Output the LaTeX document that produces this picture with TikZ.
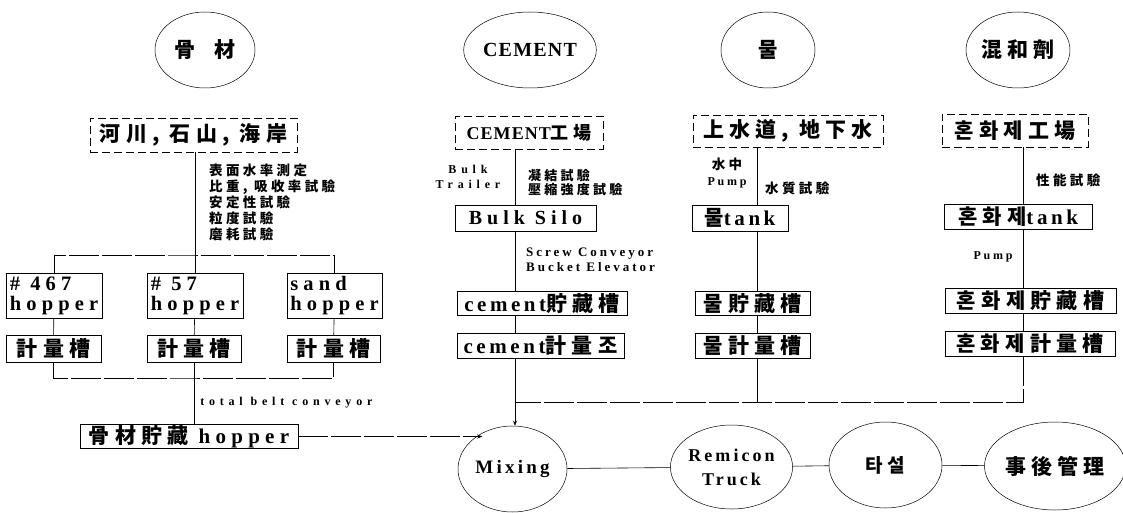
\documentclass[tikz,border=0pt]{standalone}
\usepackage{fontspec}
\setmainfont{Liberation Serif}
\newfontfamily\lat[LetterSpace=17]{Liberation Serif}
\newfontfamily\lath[LetterSpace=25]{Liberation Serif}
\newfontfamily\latc[LetterSpace=6]{Liberation Serif}
\newfontfamily\latm[LetterSpace=23]{Liberation Serif}
\newfontfamily\latw[LetterSpace=40]{Liberation Serif}
\newfontfamily\kr[LetterSpace=25]{Noto Sans CJK KR}
\usetikzlibrary{arrows.meta, shapes.geometric}
\newcommand\fsrc{\fontsize{21}{22}\selectfont\bfseries}
\newcommand\fhop{\fontsize{20.5}{20}\selectfont\bfseries}
\newcommand\fnote{\fontsize{13.5}{16}\selectfont\bfseries}
\newcommand\flatnote{\fontsize{12}{15.5}\selectfont\bfseries}

\begin{document}
\begin{tikzpicture}[
  x=1pt, y=-1pt,
  every node/.style={inner sep=0pt},
  srcbox/.style={draw, dash pattern=on 8pt off 4pt, line width=0.6pt, font=\fsrc\kr},
  tankbox/.style={draw, line width=0.5pt, font=\fsrc\kr},
  stage/.style={draw, ellipse, line width=0.5pt, font=\fsrc\kr},
  note/.style={font=\fnote\kr, align=left},
  latnote/.style={font=\flatnote\latw, align=left},
  sz/.style 2 args={minimum width=#1pt, minimum height=#2pt},
  wire/.style={line width=0.6pt},
  bus/.style={line width=0.6pt, dash pattern=on 30pt off 3pt},
  feed/.style={-{Stealth[length=5pt, width=4pt]}}
]
  \useasboundingbox (0,0) rectangle (1123,513);

  % materials
  \node[stage, sz={100}{76}] (gm) at (205,50) {骨\hspace{20pt}材};
  \node[stage, sz={98}{76}, font=\fontsize{20}{20}\selectfont\bfseries\latc] (cem) at (530,50) {CEMENT};
  \node[stage, sz={94}{76}] (mul) at (768,50) {물};
  \node[stage, sz={94}{76}] (hh) at (1018,50) {混和劑};

  % sources
  \node[srcbox, sz={207}{34}] (river) at (193.5,135) {河川, 石山, 海岸};
  \node[srcbox, sz={148}{33}, font=\fontsize{18}{20}\selectfont\bfseries\kr] (plant) at (529,132.5) {{\latc CEMENT}工場};
  \node[srcbox, sz={190}{32}] (well) at (788,131) {上水道, 地下水};
  \node[srcbox, sz={146}{33}] (adfac) at (1015,130.5) {혼화제工場};

  % aggregate line
  \node[tankbox, sz={96}{45}, align=left, font=\fhop\lath] (h467) at (54,295.5) {\# 467\\hopper};
  \node[tankbox, sz={96}{45}, align=left, font=\fhop\lath] (h57) at (195,295.5) {\# 57\\hopper};
  \node[tankbox, sz={95}{45}, align=left, font=\fhop\lath] (hsand) at (334.5,295.5) {sand\\hopper};
  \node[tankbox, sz={95}{27}] (k1) at (53.5,348.5) {計量槽};
  \node[tankbox, sz={94}{27}] (k2) at (194,348.5) {計量槽};
  \node[tankbox, sz={93}{27}] (k3) at (333.5,348.5) {計量槽};
  \node[tankbox, sz={218}{24}] (agg) at (189,436.5) {骨材貯藏 {\lath hopper}};

  % cement line
  \node[tankbox, sz={141}{26}, font=\fontsize{20}{20}\selectfont\bfseries\lath] (silo) at (525.5,218) {Bulk Silo};
  \node[tankbox, sz={170}{24}] (ctank) at (542,303.5) {{\lat cement}貯藏槽};
  \node[tankbox, sz={167}{25}] (cmeas) at (540.5,345.5) {{\lat cement}計量조};

  % water line
  \node[tankbox, sz={96}{26}] (wtank) at (740,218) {물{\lat tank}};
  \node[tankbox, sz={115}{24}] (wstore) at (752.5,303.5) {물貯藏槽};
  \node[tankbox, sz={115}{25}] (wmeas) at (752.5,345.5) {물計量槽};

  % admixture line
  \node[tankbox, sz={148}{25}] (atank) at (1018,216.5) {혼화제{\lat tank}};
  \node[tankbox, sz={171}{25}] (astore) at (1030.5,300.5) {혼화제貯藏槽};
  \node[tankbox, sz={170}{25}] (ameas) at (1030,343.5) {혼화제計量槽};

  % production
  \node[stage, sz={109}{86}, font=\fontsize{19}{20}\selectfont\bfseries\lat] (mix) at (512.5,469) {Mixing};
  \node[stage, sz={111}{84}, font=\fontsize{18}{24}\selectfont\bfseries\lat, align=center] (remi) at (731.5,467) {Remicon\\Truck};
  \node[stage, sz={113}{86}, font=\fontsize{19}{20}\selectfont\bfseries\kr] (tasul) at (885.5,465) {타설};
  \node[stage, sz={114}{88}] (after) at (1055,466) {事後管理};

  % notes
  \node[note, anchor=north west] (aggtest) at (209,164) {表面水率測定\\比重, 吸收率試驗\\安定性試驗\\粒度試驗\\磨耗試驗};
  \node[latnote, align=center] (trailer) at (468,177) {Bulk\\Trailer};
  \node[note, anchor=west, font=\fontsize{13}{14}\selectfont\bfseries\kr] (cemtest) at (528,183) {凝結試驗\\壓縮強度試驗};
  \node[latnote, anchor=west, font=\fontsize{13}{15.5}\selectfont\bfseries\latm] (screw) at (526,260) {Screw Conveyor\\Bucket Elevator};
  \node[note, align=center] (sub) at (727,173) {水中\\{\flatnote\latm Pump}};
  \node[note, anchor=west] (wtest) at (765,188) {水質試驗};
  \node[note, anchor=west] (atest) at (1036,180) {性能試驗};
  \node[latnote, font=\flatnote\latm] (pump) at (993,257) {Pump};

  % column lines
  \coordinate (gcol) at (195,0);
  \coordinate (ccol) at (515,0);
  \coordinate (wcol) at (757,0);
  \coordinate (acol) at (1023,0);
  \coordinate (bus1) at (195,255);
  \coordinate (bus2) at (195,378);
  \coordinate (bus3) at (515,402);

  \draw[wire] (river.south -| gcol) -- (h57.north -| gcol);
  \draw[bus] (h467.north) |- (bus1) -| (hsand.north);
  \draw[wire] (h467) -- (k1);
  \draw[wire] (h57) -- (k2);
  \draw[wire] (hsand) -- (k3);
  \draw[bus] (k1.south) |- (bus2) -| (k3.south);
  \draw[wire] (k2.south) -- (k2.south |- agg.north)
    node[pos=0.65, right=6pt, latnote] {total belt conveyor};
  \draw[bus, feed] (agg.east) -- (agg.east -| mix.130);

  \draw[wire] (plant.south -| ccol) -- (silo.north -| ccol);
  \draw[wire] (silo.south -| ccol) -- (ctank.north -| ccol);
  \draw[wire] (ctank.south -| ccol) -- (cmeas.north -| ccol);
  \draw[wire, feed] (cmeas.south -| ccol) -- (mix.north -| ccol);

  \draw[wire] (well.south -| wcol) -- (wtank.north -| wcol);
  \draw[wire] (wtank.south -| wcol) -- (wstore.north -| wcol);
  \draw[wire] (wstore.south -| wcol) -- (wmeas.north -| wcol);
  \draw[wire] (wmeas.south -| wcol) -- (bus3 -| wcol);

  \draw[wire] (adfac.south -| acol) -- (atank.north -| acol);
  \draw[wire] (atank.south -| acol) -- (astore.north -| acol);
  \draw[wire] (astore.south -| acol) -- (ameas.north -| acol);
  \draw[bus] (ameas.south -| acol) |- (bus3);

  \draw[wire] (mix) -- (remi);
  \draw[wire] (remi) -- (tasul);
  \draw[wire] (tasul) -- (after);
\end{tikzpicture}
\end{document}
